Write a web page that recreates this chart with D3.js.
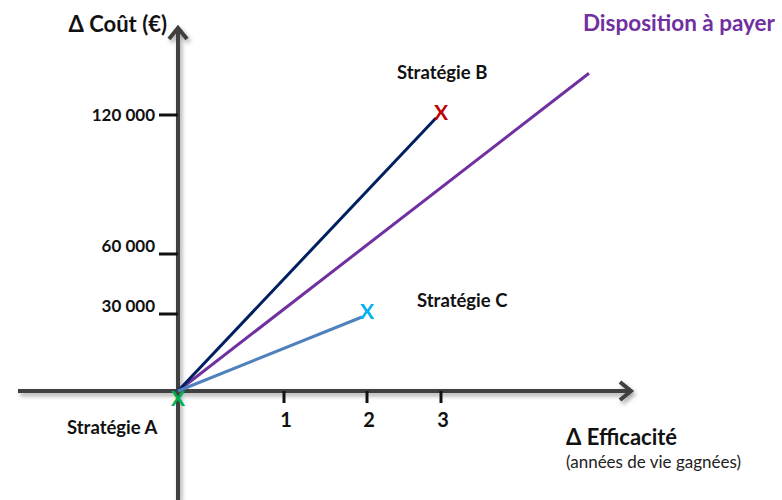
<!DOCTYPE html>
<html lang="fr">
<head>
<meta charset="utf-8">
<title>Plan coût-efficacité</title>
<script src="https://d3js.org/d3.v7.min.js"></script>
<style>
  body { margin: 0; background: #fff; }
  svg { display: block; font-family: Lato, "Open Sans", sans-serif; }
  .tick-label { font-weight: bold; font-size: 17px; fill: #111; }
  .strat { font-weight: bold; font-size: 18.5px; fill: #111; }
</style>
</head>
<body>
<svg id="chart" width="782" height="500"></svg>
<script>
// tick values (the chart is a sketch, so the axis spacing is not regular)
const xTicks = [1, 2, 3];
const yTicks = [30000, 60000, 120000];

// strategies: incremental effect vs incremental cost
const stratNames = ["Stratégie A", "Stratégie B", "Stratégie C"];
const stratEffect = [0, 3, 2];
const stratCost = [0, 120000, 30000];
const stratColors = ["#00b050", "#c00000", "#00b0f0"];
const lineColors = [null, "#002060", "#4f81bd"];

// willingness-to-pay line, from origin to its end
const wtpEffect = [0, 5];
const wtpCost = [0, 138000];

const svg = d3.select("#chart");

// piecewise scales to follow the hand-made spacing
const x = d3.scaleLinear().domain([0, 1, 2, 3]).range([178, 284, 367, 441]);
const y = d3.scaleLinear().domain([0, 30000, 60000, 120000]).range([391, 314, 254, 115]);

// soft shadow under the axes
const defs = svg.append("defs");
const f = defs.append("filter").attr("id", "shadow")
  .attr("x", "-20%").attr("y", "-20%").attr("width", "140%").attr("height", "140%");
f.append("feDropShadow").attr("dx", 2).attr("dy", 3).attr("stdDeviation", 2)
  .attr("flood-color", "#000").attr("flood-opacity", 0.35);

const axisColor = "#3f3f3f";
const axes = svg.append("g").attr("filter", "url(#shadow)")
  .attr("stroke", axisColor).attr("fill", "none");

// x axis with arrow
axes.append("line").attr("x1", 18).attr("x2", 630).attr("y1", y(0)).attr("y2", y(0))
  .attr("stroke-width", 4);
axes.append("path")
  .attr("d", `M620,${y(0) - 9} L631,${y(0)} L620,${y(0) + 9}`)
  .attr("stroke-width", 4).attr("stroke-linejoin", "miter");

// y axis with arrow
axes.append("line").attr("x1", x(0)).attr("x2", x(0)).attr("y1", 28).attr("y2", 500)
  .attr("stroke-width", 4);
axes.append("path")
  .attr("d", `M${x(0) - 9},39 L${x(0)},28 L${x(0) + 9},39`)
  .attr("stroke-width", 4).attr("stroke-linejoin", "miter");

// y ticks
svg.selectAll(".ytick").data(yTicks).join("line")
  .attr("x1", x(0) - 19).attr("x2", x(0))
  .attr("y1", d => y(d)).attr("y2", d => y(d))
  .attr("stroke", "#111").attr("stroke-width", 3);

const fmt = d3.formatLocale({ decimal: ",", thousands: " ", grouping: [3], currency: ["", " €"] }).format(",");
svg.selectAll(".ylab").data(yTicks).join("text")
  .attr("class", "tick-label")
  .attr("x", x(0) - 23)
  .attr("y", d => y(d) - (d === d3.max(yTicks) ? 0 : 8))
  .attr("dy", "0.35em")
  .attr("text-anchor", "end")
  .text(d => fmt(d));

// x ticks
svg.selectAll(".xtick").data(xTicks).join("line")
  .attr("x1", d => x(d)).attr("x2", d => x(d))
  .attr("y1", y(0)).attr("y2", y(0) + 12)
  .attr("stroke", "#111").attr("stroke-width", 3);

svg.selectAll(".xlab").data(xTicks).join("text")
  .attr("class", "tick-label")
  .attr("x", d => x(d) + 2)
  .attr("y", y(0) + 36)
  .attr("text-anchor", "middle")
  .style("font-size", "20px")
  .text(d => d);

// willingness-to-pay line
svg.append("line")
  .attr("x1", x(wtpEffect[0])).attr("y1", y(wtpCost[0]))
  .attr("x2", x(wtpEffect[1])).attr("y2", y(wtpCost[1]))
  .attr("stroke", "#7030a0").attr("stroke-width", 3);

// strategy lines from A
const strats = stratNames.map((n, i) => ({ name: n, e: stratEffect[i], c: stratCost[i], col: stratColors[i], line: lineColors[i] }));
svg.selectAll(".sline").data(strats.filter(d => d.line)).join("line")
  .attr("x1", x(0)).attr("y1", y(0))
  .attr("x2", d => x(d.e) - 5).attr("y2", d => y(d.c) + 3)
  .attr("stroke", d => d.line).attr("stroke-width", 3);

// X markers (A's marker sits just under the origin)
svg.selectAll(".mark").data(strats).join("text")
  .attr("x", d => x(d.e))
  .attr("y", d => y(d.c) + (d.e === 0 ? 8 : -2))
  .attr("dy", "0.35em")
  .attr("text-anchor", "middle")
  .attr("font-weight", "bold")
  .attr("font-size", "21px")
  .attr("fill", d => d.col)
  .text("X");

// strategy labels
svg.append("text").attr("class", "strat").attr("x", 67).attr("y", 434).text(stratNames[0]);
svg.append("text").attr("class", "strat").attr("x", 397).attr("y", 79).text(stratNames[1]);
svg.append("text").attr("class", "strat").attr("x", 417).attr("y", 307).text(stratNames[2]);

// axis titles
svg.append("text").attr("x", 167).attr("y", 32).attr("text-anchor", "end")
  .attr("font-weight", "bold").attr("font-size", "22px").attr("fill", "#111")
  .text("\u0394 Coût (€)");
svg.append("text").attr("x", 775).attr("y", 31).attr("text-anchor", "end")
  .attr("font-weight", "bold").attr("font-size", "22.5px").attr("fill", "#7030a0")
  .text("Disposition à payer");
svg.append("text").attr("x", 566).attr("y", 445)
  .attr("font-weight", "bold").attr("font-size", "22px").attr("fill", "#111")
  .text("\u0394 Efficacité");
svg.append("text").attr("x", 566).attr("y", 468)
  .attr("font-size", "17px").attr("fill", "#222")
  .text("(années de vie gagnées)");
</script>
</body>
</html>
